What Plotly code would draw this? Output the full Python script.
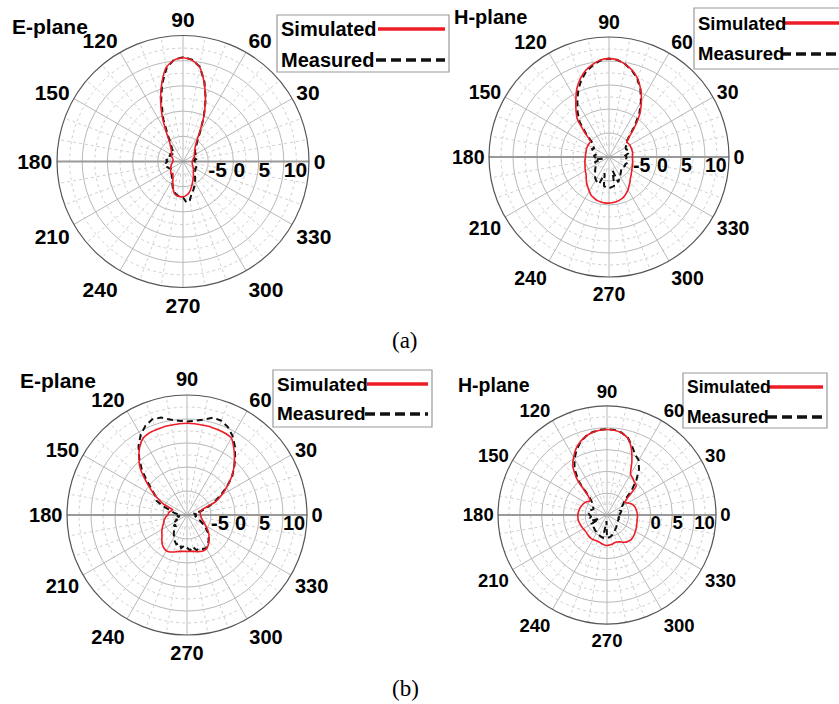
import plotly.graph_objects as go

W, H = 839, 704

# ---------------- data (dB vs angle, degrees) ----------------
theta = list(range(0, 360, 5))

ea_sim = [-8.2, -8.1, -8.0, -7.9, -7.7, -7.5, -7.4, -7.2, -7.0, -6.7, -6.2, -5.4,
          -3.5, -0.3, 3.0, 6.2, 9.0, 10.2, 10.6, 10.2, 9.0, 6.2, 3.0, -0.3,
          -3.5, -5.4, -6.2, -6.7, -7.0, -7.2, -7.4, -7.5, -7.7, -7.9, -8.0, -8.0,
          -8.0, -7.9, -7.8, -7.6, -7.5, -7.3, -7.2, -7.0, -6.8, -6.6, -6.9, -6.5,
          -6.0, -5.2, -4.3, -3.4, -3.1, -3.0, -3.0, -3.2, -3.6, -4.2, -4.9, -5.5,
          -6.0, -6.4, -6.8, -7.1, -7.3, -7.5, -7.7, -7.8, -8.0, -8.1, -8.1, -8.2]
ea_meas = [-7.6, -7.8, -7.4, -7.6, -7.3, -7.5, -7.1, -7.0, -6.9, -6.5, -5.9, -5.0,
           -3.2, -0.2, 3.2, 6.4, 9.1, 10.3, 10.7, 10.3, 8.8, 6.0, 2.7, -0.8,
           -4.0, -5.8, -6.6, -7.2, -7.0, -7.4, -7.1, -7.3, -6.9, -6.8, -7.0, -6.7,
           -6.9, -6.6, -6.8, -6.5, -6.7, -6.9, -7.2, -7.0, -6.8, -6.9, -6.5, -6.2,
           -5.8, -5.0, -4.2, -3.6, -3.2, -3.0, -2.9, -1.8, -2.2, -3.4, -4.0, -4.6,
           -5.2, -5.8, -6.3, -6.6, -6.9, -7.0, -7.2, -7.1, -7.3, -7.4, -7.5, -7.6]

ha_sim = [-5.1, -5.1, -5.0, -5.0, -5.0, -5.0, -5.0, -5.1, -5.2, -4.0, -1.5, 1.3,
          3.5, 5.6, 7.4, 8.7, 9.6, 10.3, 10.5, 10.3, 9.6, 8.7, 7.4, 5.8,
          3.8, 2.0, 0.2, -3.0, -5.0, -5.0, -5.0, -5.0, -5.0, -5.1, -5.1, -5.1,
          -5.1, -5.0, -4.9, -4.8, -4.7, -4.5, -4.3, -4.1, -3.8, -3.3, -2.8, -2.3,
          -1.8, -1.2, -0.9, -0.6, -0.5, -0.4, -0.4, -0.5, -0.6, -0.8, -1.1, -1.6,
          -2.1, -2.7, -3.2, -3.7, -4.0, -4.3, -4.5, -4.7, -4.8, -4.9, -5.0, -5.1]
ha_meas = [-6.3, -6.6, -6.0, -6.2, -5.8, -6.1, -6.0, -5.6, -5.4, -4.2, -1.8, 1.0,
           3.3, 5.5, 7.3, 8.6, 9.6, 10.3, 10.5, 10.2, 9.4, 8.4, 7.0, 5.2,
           3.2, 1.4, -0.5, -3.4, -5.6, -6.0, -6.4, -6.1, -6.6, -6.9, -7.2, -6.9,
           -7.0, -7.3, -7.0, -8.6, -6.8, -7.1, -6.8, -6.6, -6.3, -5.9, -5.4, -4.9,
           -4.5, -4.2, -4.0, -6.5, -3.9, -3.6, -3.5, -3.7, -3.9, -7.0, -4.4, -4.9,
           -5.3, -5.8, -6.1, -6.4, -6.6, -6.4, -6.2, -6.3, -6.1, -6.4, -6.2, -6.4]

eb_sim = [-7.2, -7.2, -7.2, -7.1, -6.6, -3.4, -1.6, 0.1, 2.0, 3.8, 5.4, 7.0,
          8.5, 8.8, 8.9, 9.0, 9.0, 9.1, 9.1, 9.1, 9.0, 9.0, 8.9, 8.8,
          8.4, 7.2, 5.6, 3.8, 1.3, -0.9, -2.8, -4.6, -6.8, -6.6, -6.3, -6.1,
          -6.0, -5.6, -5.3, -5.0, -4.8, -4.4, -4.0, -3.6, -3.2, -2.6, -2.0, -1.6,
          -1.4, -1.5, -1.8, -2.1, -2.3, -2.4, -2.4, -2.4, -2.3, -2.1, -1.9, -1.8,
          -1.9, -2.3, -2.9, -3.5, -4.1, -4.8, -5.5, -6.0, -6.5, -6.8, -7.0, -7.1]
eb_meas = [-8.4, -8.0, -8.6, -7.2, -5.6, -3.8, -2.0, 0.0, 2.2, 3.9, 5.6, 7.4,
           9.0, 10.2, 10.9, 11.0, 10.2, 9.7, 9.5, 9.7, 10.2, 11.0, 11.2, 10.5,
           9.3, 7.6, 5.5, 3.3, 0.8, -1.2, -2.6, -3.0, -4.8, -6.5, -7.2, -8.0,
           -8.3, -7.8, -8.5, -7.6, -7.3, -7.8, -6.9, -7.2, -6.4, -6.8, -5.8, -5.2,
           -4.6, -4.0, -3.5, -3.9, -3.0, -3.6, -3.2, -2.6, -3.3, -2.4, -2.6, -2.2,
           -2.0, -2.5, -3.0, -3.6, -4.3, -5.2, -6.0, -6.8, -7.4, -7.9, -8.2, -8.0]

hb_sim = [-3.0, -3.1, -3.2, -3.3, -3.5, -3.9, -4.5, -5.0, -3.8, -0.5, -0.2, 0.3,
          0.8, 3.5, 6.3, 8.3, 9.1, 9.5, 9.6, 9.5, 9.2, 8.7, 7.9, 6.8,
          5.3, 3.7, 0.6, -4.0, -5.0, -4.6, -4.2, -4.0, -3.8, -3.6, -3.5, -3.4,
          -3.3, -3.3, -3.3, -3.4, -3.5, -3.6, -3.7, -3.8, -3.8, -3.7, -3.6, -3.5,
          -3.5, -3.6, -3.6, -3.5, -3.3, -3.1, -3.0, -3.1, -3.2, -3.4, -3.4, -3.2,
          -2.8, -2.4, -2.2, -2.1, -2.2, -2.3, -2.5, -2.6, -2.8, -2.9, -3.0, -3.0]
hb_meas = [-7.2, -7.0, -6.8, -6.6, -6.8, -6.2, -6.0, -5.4, -4.6, -2.0, 0.5, 2.8,
           4.5, 5.3, 6.8, 8.4, 9.2, 9.6, 9.7, 9.6, 9.3, 8.7, 7.8, 6.5,
           4.9, 3.0, 0.2, -4.4, -5.6, -6.0, -6.3, -6.6, -6.4, -6.0, -6.2, -5.8,
           -6.0, -6.3, -6.1, -6.4, -6.2, -8.0, -6.0, -6.2, -5.9, -5.8, -5.6, -5.5,
           -5.3, -5.2, -5.0, -4.8, -4.7, -8.6, -4.7, -4.8, -5.0, -5.3, -5.6, -5.9,
           -6.2, -6.4, -6.6, -6.8, -6.9, -7.0, -7.1, -7.2, -7.1, -7.3, -7.2, -7.2]

angle_ticks = list(range(0, 360, 30))
radial_ticks = [-5, 0, 5, 10]
radial_range = [-10, 15]
minor_rings = [-7.5, -2.5, 2.5, 7.5, 12.5]
minor_spokes = [a for a in range(0, 360, 10) if a % 30 != 0]

RED = "#ee1c25"
BLACK = "#111111"
GRID = "#b8b8b8"
MINOR = "#d0d0d0"
FONT = "Arial"


def px(x):
    return x / W


def py(y):
    return 1 - y / H


panels = [
    dict(key="polar", sub="polar", sim=ea_sim, meas=ea_meas, title="E-plane",
         cx=183, cy=161.5, R=126, fs=21, rlabels=[-5, 0, 5, 10],
         tx=10, ty=26, tfs=21,
         box=(277, 15, 449, 72), lx=279, sy=29, my=60, l0=378, l1=445, lfs=20),
    dict(key="polar2", sub="polar2", sim=ha_sim, meas=ha_meas, title="H-plane",
         cx=609, cy=157, R=120, fs=19.5, rlabels=[-5, 0, 5, 10],
         tx=452, ty=17, tfs=20,
         box=(694, 8, 850, 69), lx=696, sy=23, my=54, l0=783, l1=845, lfs=18.5),
    dict(key="polar3", sub="polar3", sim=eb_sim, meas=eb_meas, title="E-plane",
         cx=187, cy=515, R=120, fs=20, rlabels=[-5, 0, 5, 10],
         tx=18, ty=380, tfs=21,
         box=(273, 370, 432, 427), lx=275, sy=384, my=414, l0=367, l1=428, lfs=19),
    dict(key="polar4", sub="polar4", sim=hb_sim, meas=hb_meas, title="H-plane",
         cx=607, cy=515, R=109, fs=18.5, rlabels=[0, 5, 10],
         tx=456, ty=385, tfs=19.5,
         box=(683, 373, 827, 428), lx=685, sy=387, my=417, l0=769, l1=823, lfs=17.5),
]

fig = go.Figure()
shapes = []
annotations = []

full_circle = list(range(0, 361, 3))

for p in panels:
    sub = p["sub"]
    # minor dotted rings
    for v in minor_rings:
        fig.add_trace(go.Scatterpolar(
            r=[v] * len(full_circle), theta=full_circle, mode="lines",
            line=dict(color=MINOR, width=1, dash="dot"), subplot=sub,
            hoverinfo="skip", showlegend=False))
    # minor dotted spokes
    rr, tt = [], []
    for a in minor_spokes:
        rr += [radial_range[0] + 2.5, radial_range[1], None]
        tt += [a, a, None]
    fig.add_trace(go.Scatterpolar(
        r=rr, theta=tt, mode="lines", connectgaps=False,
        line=dict(color=MINOR, width=1, dash="dot"), subplot=sub,
        hoverinfo="skip", showlegend=False))
    # darker horizontal axis line (0-180)
    fig.add_trace(go.Scatterpolar(
        r=[radial_range[1], radial_range[0], radial_range[1]], theta=[180, 180, 0],
        mode="lines", line=dict(color="#9a9a9a", width=2), subplot=sub,
        hoverinfo="skip", showlegend=False))
    # data
    th = theta + [360]
    fig.add_trace(go.Scatterpolar(
        r=p["meas"] + [p["meas"][0]], theta=th, mode="lines",
        line=dict(color=BLACK, width=2, dash="6px,4px"), subplot=sub,
        name="Measured", showlegend=False))
    fig.add_trace(go.Scatterpolar(
        r=p["sim"] + [p["sim"][0]], theta=th, mode="lines",
        line=dict(color=RED, width=1.6, shape="spline", smoothing=0.6), subplot=sub,
        name="Simulated", showlegend=False))
    # radial tick labels
    fig.add_trace(go.Scatterpolar(
        r=p["rlabels"], theta=[0] * len(p["rlabels"]), mode="text",
        text=[str(v) for v in p["rlabels"]], textposition="bottom right",
        textfont=dict(family=FONT, size=p["fs"], color="black", weight="bold"),
        subplot=sub, hoverinfo="skip", showlegend=False, cliponaxis=False))

    R = p["R"]
    fig.update_layout(**{p["key"]: dict(
        domain=dict(x=[px(p["cx"] - R), px(p["cx"] + R)],
                    y=[py(p["cy"] + R), py(p["cy"] - R)]),
        bgcolor="white",
        radialaxis=dict(range=radial_range, tickvals=radial_ticks, showticklabels=False,
                        ticks="", showline=False, gridcolor=GRID, gridwidth=1),
        angularaxis=dict(tickvals=angle_ticks, ticktext=[str(a) for a in angle_ticks],
                         rotation=0, direction="counterclockwise", ticks="",
                         gridcolor=GRID, gridwidth=1, showline=True,
                         linecolor="#555555", linewidth=1.2,
                         tickfont=dict(family=FONT, size=p["fs"], color="black",
                                       weight="bold")),
    )})

    # title
    annotations.append(dict(
        x=px(p["tx"]), y=py(p["ty"]), xref="paper", yref="paper", xanchor="left",
        yanchor="middle", text=p["title"], showarrow=False,
        font=dict(family=FONT, size=p["tfs"], color="black", weight="bold")))

    # legend box (drawn below the polar layers so tick labels stay visible)
    x0, y0, x1, y1 = p["box"]
    shapes.append(dict(type="rect", xref="paper", yref="paper",
                       x0=px(x0), x1=px(x1), y0=py(y1), y1=py(y0),
                       fillcolor="white", line=dict(color="#9a9a9a", width=1.2),
                       layer="below"))
    shapes.append(dict(type="line", xref="paper", yref="paper",
                       x0=px(p["l0"]), x1=px(p["l1"]), y0=py(p["sy"]), y1=py(p["sy"]),
                       line=dict(color=RED, width=3.5), layer="below"))
    shapes.append(dict(type="line", xref="paper", yref="paper",
                       x0=px(p["l0"] - 2), x1=px(p["l1"]), y0=py(p["my"]), y1=py(p["my"]),
                       line=dict(color=BLACK, width=3.5, dash="10px,5px"), layer="below"))
    for txt, yy in (("Simulated", p["sy"]), ("Measured", p["my"])):
        annotations.append(dict(
            x=px(p["lx"]), y=py(yy), xref="paper", yref="paper", xanchor="left",
            yanchor="middle", text=txt, showarrow=False,
            font=dict(family=FONT, size=p["lfs"], color="black", weight="bold")))

# sub-figure captions
for txt, yy in (("(a)", 340), ("(b)", 688)):
    annotations.append(dict(
        x=px(405), y=py(yy), xref="paper", yref="paper", xanchor="center",
        yanchor="middle", text=txt, showarrow=False,
        font=dict(family="Liberation Serif, Times New Roman, serif", size=23,
                  color="black")))

fig.update_layout(
    width=W, height=H, margin=dict(l=0, r=0, t=0, b=0),
    paper_bgcolor="white", plot_bgcolor="white", showlegend=False,
    shapes=shapes, annotations=annotations,
)

fig.write_html("out.html")
